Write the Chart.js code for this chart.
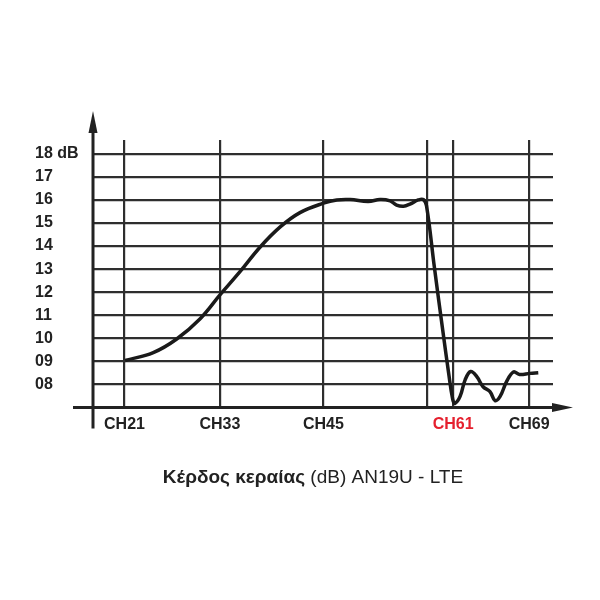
<!DOCTYPE html>
<html>
<head>
<meta charset="utf-8">
<script src="https://cdn.jsdelivr.net/npm/chart.js@4"></script>
<style>
  body { margin: 0; background: #fff; }
  #wrap { position: relative; width: 600px; height: 600px; }
  #titulo {
    position: absolute; left: 0; top: 466px; width: 626px;
    text-align: center; font-family: 'Liberation Sans', Arial, sans-serif;
    font-size: 19px; color: #222;
  }
</style>
</head>
<body>
<div id="wrap">
  <canvas id="grafico" width="600" height="600"></canvas>
  <div id="titulo"><b>Κέρδος κεραίας</b> (dB) AN19U - LTE</div>
</div>
<script>
// posiciones horizontales (0..100 a lo ancho del área) y ganancia en dB
const xPos = [7.0, 13.1, 18.2, 23.3, 27.6, 32.0, 36.3, 40.7, 45.0, 50.1, 53.0, 55.9, 59.8, 62.4, 64.6, 66.0,
              67.5, 68.9, 70.7, 71.8, 72.5, 74.2, 76.2, 77.3, 78.2, 78.7, 79.8, 80.9, 82.1, 83.4, 84.8,
              86.3, 87.4, 88.5, 89.9, 91.4, 92.7, 95.0, 96.8];
const ganancia = [9.04, 9.38, 9.97, 10.85, 11.88, 12.9, 13.95, 14.83, 15.45, 15.86, 16.0, 16.02, 15.93, 16.02, 15.96, 15.78,
                  15.73, 15.82, 16.0, 16.02, 15.75, 13.1, 10.1, 8.51, 7.35, 7.18, 7.48, 8.2, 8.56, 8.35, 7.9,
                  7.69, 7.3, 7.48, 8.12, 8.54, 8.43, 8.48, 8.51];

// canales marcados en el eje x
const canalPos = [6.85, 27.6, 50.1, 72.7, 78.3, 94.8];
const canales = ['CH21', 'CH33', 'CH45', '', 'CH61', 'CH69'];

// eje y
const yValores = [8, 9, 10, 11, 12, 13, 14, 15, 16, 17, 18];
const yEtiquetas = ['08', '09', '10', '11', '12', '13', '14', '15', '16', '17', '18 dB'];

const tinta = '#222';
const rojo = '#e5202e';
const fuente = { family: 'Liberation Sans', size: 16, weight: 'bold' };

// Dibuja los ejes con flechas
const ejesConFlecha = {
  id: 'ejesConFlecha',
  afterDatasetsDraw(chart) {
    const ctx = chart.ctx;
    const area = chart.chartArea;
    const y0 = chart.scales.y.getPixelForValue(7);
    ctx.save();
    ctx.strokeStyle = tinta;
    ctx.fillStyle = tinta;
    ctx.lineWidth = 3;
    // vertical
    ctx.beginPath();
    ctx.moveTo(area.left, y0 + 21);
    ctx.lineTo(area.left, 128);
    ctx.stroke();
    ctx.beginPath();
    ctx.moveTo(area.left, 111);
    ctx.lineTo(area.left - 4.5, 133);
    ctx.lineTo(area.left + 4.5, 133);
    ctx.closePath();
    ctx.fill();
    // horizontal
    ctx.beginPath();
    ctx.moveTo(area.left - 20, y0);
    ctx.lineTo(area.right + 4, y0);
    ctx.stroke();
    ctx.beginPath();
    ctx.moveTo(area.right + 20, y0);
    ctx.lineTo(area.right - 1, y0 - 4.5);
    ctx.lineTo(area.right - 1, y0 + 4.5);
    ctx.closePath();
    ctx.fill();
    ctx.restore();
  }
};

const puntos = xPos.map((x, i) => ({ x: x, y: ganancia[i] }));

const config = {
  type: 'line',
  data: {
    datasets: [{
      data: puntos,
      borderColor: '#1a1a1a',
      borderWidth: 3.5,
      pointRadius: 0,
      tension: 0.4,
      clip: false
    }]
  },
  options: {
    responsive: false,
    animation: false,
    layout: { padding: { left: 35, right: 47, top: 140, bottom: 152.5 } },
    plugins: { legend: { display: false }, tooltip: { enabled: false } },
    scales: {
      x: {
        type: 'linear',
        min: 0,
        max: 100,
        afterBuildTicks: (eje) => { eje.ticks = canalPos.map(v => ({ value: v })); },
        afterFit: (eje) => { eje.height = 40; },
        border: { display: false },
        grid: { color: '#2e2e2e', lineWidth: 2.2, drawTicks: false },
        ticks: {
          autoSkip: false,
          maxRotation: 0,
          padding: 7,
          font: fuente,
          color: (c) => (canales[c.index] === 'CH61' ? rojo : tinta),
          callback: (v, i) => canales[i]
        }
      },
      y: {
        min: 7,
        max: 18.6,
        afterBuildTicks: (eje) => { eje.ticks = yValores.map(v => ({ value: v })); },
        afterFit: (eje) => { eje.width = 58; },
        border: { display: false },
        grid: { color: '#2e2e2e', lineWidth: 2.2, drawTicks: false },
        ticks: {
          crossAlign: 'far',
          font: fuente,
          color: tinta,
          callback: (v, i) => yEtiquetas[i]
        }
      }
    }
  },
  plugins: [ejesConFlecha]
};

new Chart(document.getElementById('grafico').getContext('2d'), config);
</script>
</body>
</html>
